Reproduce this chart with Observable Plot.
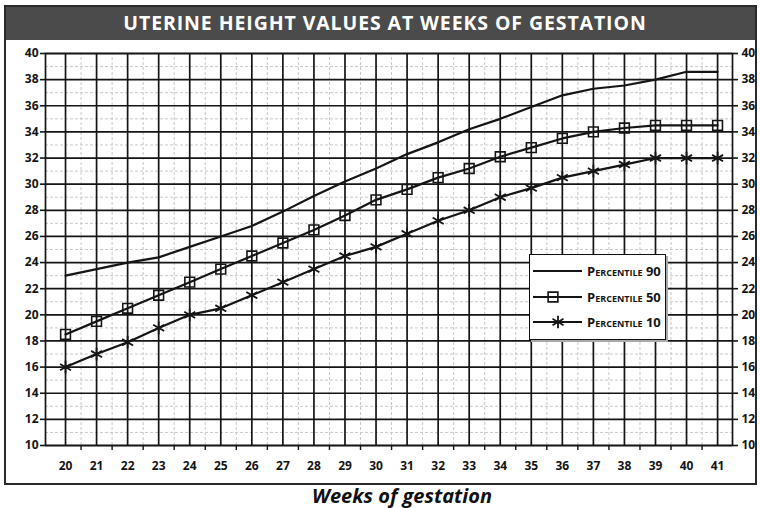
<!DOCTYPE html>
<html><head><meta charset="utf-8">
<script src="https://cdn.jsdelivr.net/npm/d3@7"></script>
<script src="https://cdn.jsdelivr.net/npm/@observablehq/plot@0.6"></script>
<style>
body{margin:0;width:760px;height:508px;position:relative;background:#fff;font-family:"Open Sans",sans-serif;overflow:hidden}
#box{position:absolute;left:4px;top:5px;width:753px;height:480px;border:2px solid #2a2a2a;box-sizing:border-box;pointer-events:none;z-index:3}
#title{position:absolute;left:4px;top:5px;width:753px;height:35px;background:#4b4b4b;color:#fff;font-weight:700;font-size:19.5px;letter-spacing:0.9px;text-align:center;line-height:35px;padding-left:9px;box-sizing:border-box;z-index:2}
#chart{position:absolute;left:0;top:40px;z-index:1}
#legend{position:absolute;left:529px;top:254px;width:137px;height:86px;background:#fff;border:1.5px solid #111;box-sizing:border-box;box-shadow:2px 2px 0 #aaa;z-index:2}
#caption{position:absolute;top:485px;left:0;width:760px;padding-left:44px;box-sizing:border-box;text-align:center;font-weight:700;font-style:italic;font-size:20px;line-height:22px;color:#111}
</style></head>
<body>
<div id="title">UTERINE HEIGHT VALUES AT WEEKS OF GESTATION</div>
<div id="chart"></div>
<div id="legend"></div>
<div id="box"></div>
<div id="caption">Weeks of gestation</div>
<script>
const weeks = [20,21,22,23,24,25,26,27,28,29,30,31,32,33,34,35,36,37,38,39,40,41];
const p90 = [23.0,23.5,24.0,24.4,25.2,26.0,26.8,27.9,29.1,30.2,31.2,32.3,33.2,34.2,35.0,35.9,36.8,37.3,37.55,38.0,38.6,38.6];
const p50 = [18.5,19.5,20.5,21.5,22.5,23.5,24.5,25.5,26.5,27.6,28.8,29.6,30.5,31.2,32.1,32.8,33.5,34.0,34.3,34.5,34.5,34.5];
const p10 = [16.0,17.0,17.9,19.0,20.0,20.5,21.5,22.5,23.5,24.5,25.2,26.2,27.2,28.0,29.0,29.7,30.5,31.0,31.5,32.0,32.0,32.0];
const yTicks = [10,12,14,16,18,20,22,24,26,28,30,32,34,36,38,40];
const minorY = [11,13,15,17,19,21,23,25,27,29,31,33,35,37,39];
const minorX = [20.5,21.5,22.5,23.5,24.5,25.5,26.5,27.5,28.5,29.5,30.5,31.5,32.5,33.5,34.5,35.5,36.5,37.5,38.5,39.5,40.5];
const seriesNames = ["Percentile 90","Percentile 50","Percentile 10"];

const toRows = arr => weeks.map((w,i) => ({week: w, value: arr[i]}));
const d90 = toRows(p90), d50 = toRows(p50), d10 = toRows(p10);
const ink = "#151515";

const chart = Plot.plot({
  width: 760, height: 444,
  marginLeft: 45, marginRight: 28, marginTop: 13, marginBottom: 39,
  x: {domain: [19.355, 41.48], label: null},
  y: {domain: [10, 40], label: null},
  style: {background: "transparent", fontFamily: "Open Sans", fontSize: "12px", overflow: "visible", color: ink},
  marks: [
    Plot.ruleY(minorY, {stroke: "#c8c8c8", strokeDasharray: "3,2", strokeWidth: 1}),
    Plot.ruleX(minorX, {stroke: "#c8c8c8", strokeDasharray: "3,2", strokeWidth: 1, y1: 10, y2: 40}),
    Plot.ruleY(yTicks, {stroke: ink, strokeWidth: 1.7}),
    Plot.ruleX(weeks, {stroke: ink, strokeWidth: 1.7, y1: 10, y2: 40}),
    Plot.frame({stroke: ink, strokeWidth: 1.7}),
    Plot.axisY({anchor: "left", ticks: yTicks, tickSize: 5, tickPadding: 2, fontWeight: "bold", strokeWidth: 1.6, stroke: ink, label: null}),
    Plot.axisY({anchor: "right", ticks: yTicks, tickSize: 5, tickPadding: 4, fontWeight: "bold", strokeWidth: 1.6, stroke: ink, label: null}),
    Plot.axisX({anchor: "bottom", ticks: weeks, tickSize: 0, tickPadding: 16, fontWeight: "bold", label: null}),
    Plot.axisX({anchor: "bottom", ticks: minorX, tickSize: 5, tickFormat: () => "", strokeWidth: 1.4, stroke: ink, label: null}),
    Plot.line(d90, {x: "week", y: "value", stroke: ink, strokeWidth: 2.2}),
    Plot.line(d50, {x: "week", y: "value", stroke: ink, strokeWidth: 2.2}),
    Plot.line(d10, {x: "week", y: "value", stroke: ink, strokeWidth: 2.2}),
    Plot.dot(d50, {x: "week", y: "value", symbol: "square", r: 5.5, stroke: ink, strokeWidth: 1.6, fill: "none"}),
    Plot.dot(d10, {x: "week", y: "value", symbol: "asterisk", r: 6, stroke: ink, strokeWidth: 1.8})
  ]
});
document.getElementById("chart").appendChild(chart);

// legend
const lg = d3.select("#legend").append("svg").attr("width", 134).attr("height", 83)
  .style("position","absolute").style("left","0px").style("top","0px");
const ys = [16, 42, 67];
const symbols = [null, d3.symbolSquare, d3.symbolAsterisk];
seriesNames.forEach((name, i) => {
  lg.append("line").attr("x1", 3).attr("x2", 52).attr("y1", ys[i]).attr("y2", ys[i]).attr("stroke", ink).attr("stroke-width", 2.2);
  if (symbols[i]) {
    const size = Math.PI * (i === 1 ? 5.5 : 6) ** 2;
    lg.append("path").attr("d", d3.symbol(symbols[i], size)()).attr("transform", `translate(${i===1?23:28},${ys[i]})`)
      .attr("fill", "none").attr("stroke", ink).attr("stroke-width", i===1?1.6:1.8);
  }
  lg.append("text").attr("x", 57).attr("y", ys[i] + 4.5).text(name)
    .attr("font-family", "Open Sans").attr("font-weight", "bold").attr("font-size", 13).style("font-variant", "small-caps").attr("fill", ink);
});
</script>
</body></html>
